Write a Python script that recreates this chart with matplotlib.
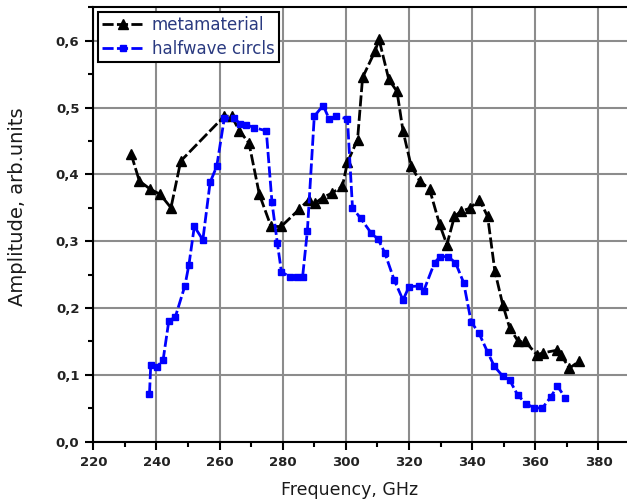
import numpy as np
import matplotlib
matplotlib.use('Agg')
import matplotlib.pyplot as plt
from matplotlib.ticker import MultipleLocator, FuncFormatter

# metamaterial (black triangles)
meta_freq = [232, 234.6, 238, 241.2, 244.6, 247.7, 261.5, 263.8, 266.3, 269.3,
             272.6, 276.3, 279.5, 285.3, 288.2, 290.3, 292.6, 295.6, 298.9, 300.5,
             303.7, 305.3, 309.3, 310.5, 313.6, 316.2, 318.1, 320.7, 323.4, 326.5,
             329.7, 332, 334.4, 336.5, 339.2, 342.3, 344.9, 347.2, 349.7, 351.9,
             354.6, 356.8, 360.5, 362.5, 367, 368.1, 370.8, 373.8]
meta_amp = [0.43, 0.39, 0.378, 0.37, 0.35, 0.42, 0.487, 0.487, 0.465, 0.447,
            0.37, 0.322, 0.322, 0.348, 0.362, 0.357, 0.365, 0.372, 0.382, 0.418,
            0.452, 0.545, 0.585, 0.602, 0.542, 0.524, 0.465, 0.412, 0.39, 0.378,
            0.325, 0.295, 0.337, 0.345, 0.349, 0.362, 0.337, 0.255, 0.205, 0.17,
            0.15, 0.15, 0.13, 0.133, 0.137, 0.13, 0.11, 0.12]

# halfwave circls (blue squares)
half_freq = [237.8, 238.2, 240.1, 242.1, 243.9, 246, 249, 250.3, 252, 254.7,
             257, 259.1, 261.5, 264.5, 266.5, 268.5, 271, 274.8, 276.6, 278.3,
             279.6, 282.2, 284.5, 286.3, 287.8, 290, 292.8, 294.7, 296.8, 300.5,
             302.1, 304.7, 307.9, 310.2, 312.3, 315.3, 318.1, 320, 323.2, 324.6,
             328.1, 329.9, 332.3, 334.7, 337.3, 339.7, 342.1, 344.9, 347, 349.7,
             351.9, 354.4, 357, 359.5, 362.2, 364.9, 367, 369.5]
half_amp = [0.072, 0.115, 0.112, 0.122, 0.18, 0.187, 0.233, 0.265, 0.322, 0.302,
            0.388, 0.412, 0.484, 0.484, 0.476, 0.474, 0.47, 0.465, 0.358, 0.297,
            0.254, 0.247, 0.247, 0.247, 0.315, 0.487, 0.503, 0.483, 0.487, 0.483,
            0.35, 0.334, 0.313, 0.303, 0.283, 0.242, 0.212, 0.232, 0.233, 0.225,
            0.268, 0.277, 0.277, 0.268, 0.238, 0.179, 0.163, 0.134, 0.113, 0.098,
            0.092, 0.07, 0.057, 0.051, 0.05, 0.067, 0.083, 0.066]

x_ticks = [220, 240, 260, 280, 300, 320, 340, 360, 380]
y_ticks = [0.0, 0.1, 0.2, 0.3, 0.4, 0.5, 0.6]

fig = plt.figure(figsize=(6.27, 5.04), dpi=100)
ax = fig.add_axes([0.1488, 0.1236, 0.856, 0.862])

dash = (0, (4, 1.2))
ax.plot(meta_freq, meta_amp, color='black', linestyle=dash, linewidth=2,
        marker='^', markersize=7, label='metamaterial', zorder=3)
ax.plot(half_freq, half_amp, color='#0000ff', linestyle=dash, linewidth=2,
        marker='s', markersize=5, label='halfwave circls', zorder=3)

ax.set_xlim(220, 390)
ax.set_ylim(0, 0.65)
ax.set_xticks(x_ticks)
ax.set_yticks(y_ticks)
ax.xaxis.set_minor_locator(MultipleLocator(10))
ax.yaxis.set_minor_locator(MultipleLocator(0.05))
ax.yaxis.set_major_formatter(FuncFormatter(lambda v, p: f'{v:.1f}'.replace('.', ',')))

ax.grid(True, which='major', color='#8c8c8c', linewidth=1.5)
ax.set_axisbelow(True)
for s in ['left', 'bottom', 'top']:
    ax.spines[s].set_linewidth(1.5)
ax.spines['right'].set_visible(False)
ax.tick_params(which='major', direction='out', length=6, width=1.5,
               labelsize=9.5, pad=4)
ax.tick_params(which='minor', direction='out', length=3.5, width=1.5)
for lab in ax.get_xticklabels() + ax.get_yticklabels():
    lab.set_fontweight('bold')
    lab.set_color('#222222')

ax.set_xlabel('Frequency, GHz', fontsize=12.5, color='#1a1a1a')
ax.set_ylabel('Amplitude, arb.units', fontsize=14, color='#1a1a1a')
ax.xaxis.set_label_coords(0.478, -0.09)
ax.yaxis.set_label_coords(-0.123, 0.54)

leg = ax.legend(loc='upper left', bbox_to_anchor=(0.008, 0.99), fontsize=12,
                fancybox=False, edgecolor='black', framealpha=1, numpoints=1,
                handlelength=2.6, handletextpad=0.4, borderpad=0.25,
                labelspacing=0.35, borderaxespad=0.0)
leg.get_frame().set_linewidth(1.5)
for t in leg.get_texts():
    t.set_color('#2a3a80')

fig.savefig('out.png', dpi=100)
